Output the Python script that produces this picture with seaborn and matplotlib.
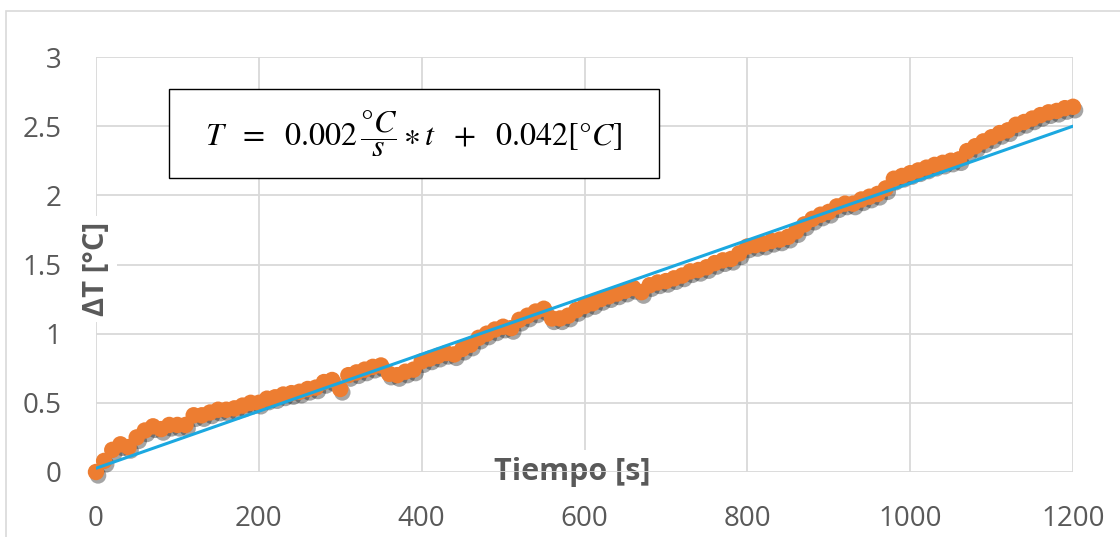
import numpy as np
import pandas as pd
import matplotlib
matplotlib.use("Agg")
import matplotlib.pyplot as plt
import matplotlib.patheffects as pe
from matplotlib.patches import Rectangle
import seaborn as sns

# measured temperature rise, one sample every 10 s
tiempo = list(range(0, 1201, 10))
delta_t = [
    0.00, 0.08, 0.16, 0.20, 0.18, 0.25, 0.30, 0.33, 0.31, 0.34,
    0.34, 0.34, 0.41, 0.41, 0.43, 0.45, 0.45, 0.46, 0.48, 0.50,
    0.50, 0.53, 0.54, 0.56, 0.57, 0.58, 0.60, 0.61, 0.65, 0.665,
    0.60, 0.70, 0.72, 0.74, 0.76, 0.77, 0.71, 0.70, 0.725, 0.74,
    0.80, 0.82, 0.84, 0.86, 0.85, 0.89, 0.92, 0.97, 1.00, 1.03,
    1.05, 1.04, 1.10, 1.13, 1.16, 1.18, 1.11, 1.11, 1.13, 1.17,
    1.20, 1.22, 1.25, 1.27, 1.29, 1.31, 1.33, 1.30, 1.35, 1.37,
    1.38, 1.40, 1.42, 1.45, 1.46, 1.48, 1.51, 1.53, 1.54, 1.58,
    1.63, 1.64, 1.65, 1.67, 1.68, 1.70, 1.74, 1.79, 1.83, 1.86,
    1.88, 1.92, 1.94, 1.94, 1.97, 1.99, 2.01, 2.05, 2.12, 2.14,
    2.16, 2.18, 2.20, 2.22, 2.235, 2.25, 2.26, 2.32, 2.355, 2.39,
    2.42, 2.45, 2.47, 2.51, 2.53, 2.555, 2.58, 2.60, 2.61, 2.63,
    2.64,
]

# linear trendline as drawn on the chart
trend_t = [0, 1200]
trend_y = [0.027, 2.50]

xticks = [0, 200, 400, 600, 800, 1000, 1200]
yticks = [0, 0.5, 1, 1.5, 2, 2.5, 3]
ytick_labels = ["0", "0.5", "1", "1.5", "2", "2.5", "3"]

df = pd.DataFrame({"t": tiempo, "dT": delta_t})
trend = pd.DataFrame({"t": trend_t, "dT": trend_y})

sns.set_theme(style="white")
plt.rcParams["font.family"] = ["Open Sans", "DejaVu Sans"]
plt.rcParams["mathtext.fontset"] = "stix"

gray = "#595959"
grid_c = "#D9D9D9"

fig = plt.figure(figsize=(11.2, 5.37), dpi=100)
ax = fig.add_axes([96 / 1120, 65 / 537, 977 / 1120, 415 / 537])

sns.scatterplot(data=df, x="t", y="dT", ax=ax, color="#ED7D31", s=140,
                edgecolor="none", linewidth=0, zorder=3, clip_on=False)
ax.collections[0].set_path_effects([
    pe.SimplePatchShadow(offset=(1.5, -2.5), shadow_rgbFace="#202020", alpha=0.4),
    pe.Normal(),
])
sns.lineplot(data=trend, x="t", y="dT", ax=ax, color="#1BA8E0", lw=2.2, zorder=4)

ax.set_xlim(0, 1200)
ax.set_ylim(0, 3)
ax.set_xticks(xticks)
ax.set_yticks(yticks)
ax.set_yticklabels(ytick_labels)
ax.set_axisbelow(True)
ax.grid(True, color=grid_c, lw=1.3)
for s in ax.spines.values():
    s.set_visible(False)
ax.tick_params(axis="both", length=0, labelsize=20, labelcolor=gray)
ax.tick_params(axis="y", pad=25)
ax.tick_params(axis="x", pad=24)

ax.set_xlabel("Tiempo [s]", fontsize=22, fontweight="bold", color=gray,
              bbox=dict(fc="white", ec="none", pad=5))
ax.xaxis.set_label_coords(0.487, 0.0)
ax.xaxis.label.set_va("center")
ax.set_ylabel("ΔT [°C]", fontsize=21, fontweight="bold", color=gray,
              bbox=dict(fc="white", ec="none", pad=4))
ax.yaxis.set_label_coords(0.001, 0.489)
ax.yaxis.label.set_va("center")

# equation box
ax.add_patch(Rectangle((0.0747, 0.708), 0.5013, 0.215, transform=ax.transAxes,
                       fc="white", ec="black", lw=1.0, zorder=5))
ax.text(0.3255, 0.8145,
        r"$T\ \ =\ \ 0.002\,\dfrac{°C}{s}\ast t\ \ +\ \ 0.042[°C]$",
        transform=ax.transAxes, ha="center", va="center", fontsize=23,
        color="black", zorder=6)

# chart area border
fig.patches.append(Rectangle((6 / 1120, -0.1), 1.2, 1.0 - 11 / 537 + 0.1,
                             transform=fig.transFigure, fill=False,
                             ec=grid_c, lw=1.2))

fig.savefig("out.png", dpi=100, facecolor="white")
